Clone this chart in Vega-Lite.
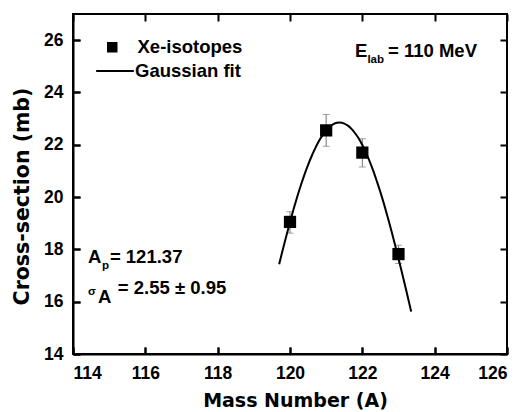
{
  "$schema": "https://vega.github.io/schema/vega-lite/v6.json",
  "width": 434,
  "height": 340,
  "autosize": "none",
  "padding": {"left": 73, "top": 14, "right": 25, "bottom": 58},
  "background": "white",
  "config": {
    "view": {"stroke": "black", "strokeWidth": 2},
    "axis": {
      "labelFont": "Liberation Sans", "labelFontWeight": "bold", "labelFontSize": 17.5, "labelColor": "black",
      "titleFont": "DejaVu Sans", "titleFontWeight": "bold", "titleColor": "black"
    },
    "legend": {"labelFont": "Liberation Sans", "labelFontWeight": "bold", "labelFontSize": 18.5, "labelColor": "black"}
  },
  "datasets": {
    "pts": [
      {"A": 120, "cs": 19.05, "low": 18.62, "high": 19.44},
      {"A": 121, "cs": 22.55, "low": 21.94, "high": 23.16},
      {"A": 122, "cs": 21.7, "low": 21.15, "high": 22.23},
      {"A": 123, "cs": 17.82, "low": 17.46, "high": 18.16}
    ],
    "fit": [
      {"A": 119.7, "cs": 17.43}, {"A": 119.8, "cs": 17.99}, {"A": 119.9, "cs": 18.52}, {"A": 120.0, "cs": 19.04},
      {"A": 120.1, "cs": 19.54}, {"A": 120.2, "cs": 20.01}, {"A": 120.3, "cs": 20.45}, {"A": 120.4, "cs": 20.86},
      {"A": 120.5, "cs": 21.23}, {"A": 120.6, "cs": 21.57}, {"A": 120.7, "cs": 21.87}, {"A": 120.8, "cs": 22.14},
      {"A": 120.9, "cs": 22.37}, {"A": 121.0, "cs": 22.55}, {"A": 121.1, "cs": 22.69}, {"A": 121.2, "cs": 22.79},
      {"A": 121.3, "cs": 22.84}, {"A": 121.37, "cs": 22.85}, {"A": 121.5, "cs": 22.81}, {"A": 121.6, "cs": 22.73},
      {"A": 121.7, "cs": 22.61}, {"A": 121.8, "cs": 22.44}, {"A": 121.9, "cs": 22.24}, {"A": 122.0, "cs": 21.99},
      {"A": 122.1, "cs": 21.7}, {"A": 122.2, "cs": 21.37}, {"A": 122.3, "cs": 21.01}, {"A": 122.4, "cs": 20.61},
      {"A": 122.5, "cs": 20.19}, {"A": 122.6, "cs": 19.73}, {"A": 122.7, "cs": 19.24}, {"A": 122.8, "cs": 18.73},
      {"A": 122.9, "cs": 18.2}, {"A": 123.0, "cs": 17.65}, {"A": 123.1, "cs": 17.09}, {"A": 123.2, "cs": 16.51},
      {"A": 123.3, "cs": 15.92}, {"A": 123.35, "cs": 15.62}
    ],
    "bigtext": [
      {"t": "E", "x": 121.8, "y": 25.35},
      {"t": "= 110 MeV", "x": 122.71, "y": 25.35},
      {"t": "A", "x": 114.415, "y": 17.49},
      {"t": "= 121.37", "x": 115.02, "y": 17.49},
      {"t": "A", "x": 114.69, "y": 15.95},
      {"t": "= 2.55 ± 0.95", "x": 115.24, "y": 16.29}
    ],
    "smalltext": [
      {"t": "lab", "x": 122.14, "y": 25.12},
      {"t": "p", "x": 114.8, "y": 17.25},
      {"t": "σ", "x": 114.415, "y": 16.26}
    ]
  },
  "layer": [
    {
      "data": {"name": "pts"},
      "mark": {"type": "rule", "color": "#777777", "strokeWidth": 1},
      "encoding": {
        "x": {"field": "A", "type": "quantitative", "scale": {"domain": [114, 126], "nice": false, "zero": false},
              "axis": {"orient": "bottom", "values": [114, 115, 116, 117, 118, 119, 120, 121, 122, 123, 124, 125, 126],
                       "labelExpr": "datum.value % 2 === 0 ? datum.label : ''",
                       "domain": true, "domainColor": "black", "domainWidth": 2,
                       "ticks": true, "tickColor": "black", "tickWidth": 2, "tickSize": -7, "labelPadding": 17,
                       "grid": true, "gridColor": "black", "gridWidth": 2, "gridOpacity": 1, "gridDash": [7, 326, 7, 0],
                       "title": "Mass Number (A)", "titleFontSize": 19, "titlePadding": 10, "titleX": 222, "zindex": 1}},
        "y": {"field": "low", "type": "quantitative", "scale": {"domain": [14, 27], "nice": false, "zero": false},
              "axis": {"orient": "left", "values": [14, 15, 16, 17, 18, 19, 20, 21, 22, 23, 24, 25, 26],
                       "labelExpr": "datum.value % 2 === 0 ? datum.label : ''",
                       "domain": true, "domainColor": "black", "domainWidth": 2,
                       "ticks": true, "tickColor": "black", "tickWidth": 2, "tickSize": -7, "labelPadding": 17,
                       "grid": true, "gridColor": "black", "gridWidth": 2, "gridOpacity": 1, "gridDash": [7, 420, 7, 0],
                       "title": "Cross-section (mb)", "titleFontSize": 20.5, "titlePadding": 11, "titleY": 182, "zindex": 1}},
        "y2": {"field": "high"}
      }
    },
    {
      "data": {"name": "pts"},
      "mark": {"type": "tick", "orient": "horizontal", "color": "#777777", "size": 7, "thickness": 1},
      "encoding": {
        "x": {"field": "A", "type": "quantitative"},
        "y": {"field": "low", "type": "quantitative"}
      }
    },
    {
      "data": {"name": "pts"},
      "mark": {"type": "tick", "orient": "horizontal", "color": "#777777", "size": 7, "thickness": 1},
      "encoding": {
        "x": {"field": "A", "type": "quantitative"},
        "y": {"field": "high", "type": "quantitative"}
      }
    },
    {
      "data": {"name": "fit"},
      "mark": {"type": "line", "strokeWidth": 2, "interpolate": "monotone"},
      "encoding": {
        "x": {"field": "A", "type": "quantitative"},
        "y": {"field": "cs", "type": "quantitative"},
        "color": {"datum": "Gaussian fit", "type": "nominal", "scale": {"domain": ["Gaussian fit"], "range": ["black"]},
                  "legend": {"title": null, "orient": "none", "legendX": 22, "legendY": 37, "padding": 0,
                             "symbolType": "stroke", "symbolSize": 1420, "symbolStrokeWidth": 2, "symbolStrokeColor": "black", "labelOffset": 0}}
      }
    },
    {
      "data": {"name": "pts"},
      "mark": {"type": "point", "filled": true, "color": "black", "opacity": 1, "size": 150},
      "encoding": {
        "x": {"field": "A", "type": "quantitative"},
        "y": {"field": "cs", "type": "quantitative"},
        "shape": {"datum": "Xe-isotopes", "type": "nominal",
                  "scale": {"domain": ["Xe-isotopes"], "range": ["square"]},
                  "legend": {"title": null, "orient": "none", "legendX": 30, "legendY": 24, "padding": 0,
                             "symbolSize": 110, "symbolStrokeColor": "black", "symbolStrokeWidth": 2, "symbolFillColor": "black",
                             "labelOffset": 16}}
      }
    },
    {
      "data": {"name": "bigtext"},
      "mark": {"type": "text", "font": "Liberation Sans", "fontWeight": "bold", "fontSize": 18.5, "align": "left", "baseline": "alphabetic", "color": "black"},
      "encoding": {
        "x": {"field": "x", "type": "quantitative"},
        "y": {"field": "y", "type": "quantitative"},
        "text": {"field": "t"}
      }
    },
    {
      "data": {"name": "smalltext"},
      "mark": {"type": "text", "font": "Liberation Sans", "fontWeight": "bold", "fontSize": 11.5, "align": "left", "baseline": "alphabetic", "color": "black"},
      "encoding": {
        "x": {"field": "x", "type": "quantitative"},
        "y": {"field": "y", "type": "quantitative"},
        "text": {"field": "t"}
      }
    }
  ]
}
